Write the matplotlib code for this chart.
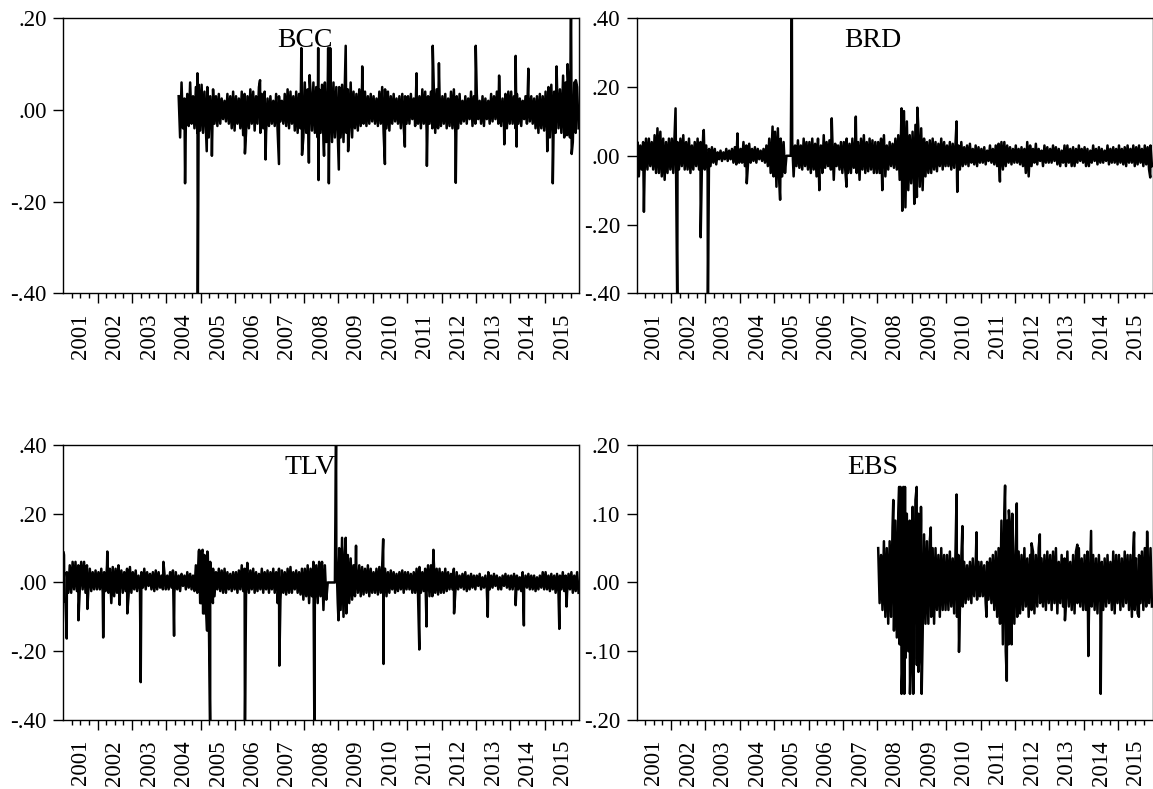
import numpy as np
import matplotlib
matplotlib.use("Agg")
import matplotlib.pyplot as plt
from matplotlib.lines import Line2D
from matplotlib.ticker import FuncFormatter

plt.rcParams['font.family'] = ['Liberation Serif', 'DejaVu Serif']

# --- data: daily returns summarised per month (high / low), in percent ---
# plus the isolated spikes (decimal year, percent)
years = list(range(2001, 2016))

bcc_start = (2004, 5)
bcc_hi = [3, 6, 2.5, 3.5, 6, 3, 5, 5.5,
          5.5, 4, 5, 3, 4.5, 3, 3.5, 2.5, 2, 3.5, 3, 4,
          3, 2.5, 4, 3.5, 3, 4.5, 4, 3, 5, 3.5, 4, 2.5,
          3, 2, 3.5, 3, 2, 3.5, 4.5, 4, 3, 4, 3.5, 5,
          6, 4.5, 4, 6, 5, 4.5, 5.5, 6, 5, 7, 6, 5,
          5, 5.5, 6, 4.5, 6, 4, 3.5, 4.5, 6, 4, 3, 3.5,
          3, 2.5, 4, 5, 4.5, 4, 3, 3.5, 2.5, 3, 3.5, 3,
          3, 3.5, 2.5, 4, 3, 4.5, 4, 3, 4, 5, 4.5, 3.5,
          3, 3.5, 2.5, 4, 4.5, 3, 3.5, 2, 3, 2.5, 4, 3,
          3.5, 2, 3, 2.5, 2, 3.5, 3, 4, 3, 2.5, 3.5, 4,
          4, 3, 3.5, 2.5, 2, 3, 3.5, 3, 2.5, 3, 3.5, 3,
          4, 5, 5.5, 4, 5, 4.5, 5, 6, 5.5, 5, 6, 5]
bcc_lo = [-6, -4, -3, -3.5, -3, -4, -5, -4.5,
          -5, -4, -6, -4.5, -3, -3.5, -3, -2, -2.5, -3, -4, -4.5,
          -3, -4, -5.5, -5, -4, -3, -4.5, -3, -5, -4, -5, -3.5,
          -3, -3.5, -4, -2.5, -3, -3.5, -4, -3, -4.5, -5, -4, -6,
          -5, -6, -4.5, -5, -6, -5, -6.5, -7, -8, -7, -6, -5,
          -6, -7, -5, -4.5, -6, -4, -4.5, -3.5, -3, -3.5, -3, -2.5,
          -3, -3.5, -3, -5, -4, -4.5, -3, -2.5, -3, -4, -3.5, -3,
          -3, -2, -3.5, -3, -4, -3, -4.5, -3, -4, -5, -4, -3.5,
          -3, -4, -3.5, -4, -5, -4, -3, -2.5, -3, -2, -3.5, -3,
          -2, -3, -3.5, -2, -3, -2.5, -2, -3, -3.5, -3, -4, -3,
          -3, -4, -3, -3.5, -2, -3, -2.5, -3, -4, -5, -4, -4.5,
          -5, -6, -5.5, -5, -4, -5, -6, -5.5, -6, -7, -5, -4]
bcc_spike_t = [2004.54, 2004.90, 2004.91, 2005.17, 2005.32, 2006.28, 2006.72, 2006.88,
               2007.27, 2007.92, 2007.94, 2008.14, 2008.16, 2008.41, 2008.42, 2008.58,
               2008.70, 2008.72, 2008.76, 2009.01, 2009.21, 2009.28, 2009.69, 2010.35,
               2010.93, 2011.27, 2011.57, 2011.74, 2011.92, 2012.41, 2012.99, 2013.67,
               2013.82, 2014.15, 2014.18, 2014.52, 2015.07, 2015.23, 2015.34, 2015.53,
               2015.66, 2015.76, 2015.78, 2015.90]
bcc_spike_v = [-16, 8, -45, -9, -10, -9.5, 6.5, -10.8,
               -11.8, 13.5, -9.8, -11.5, 7.6, 13.5, -15.3, -10,
               13.5, -16, 13.5, -13, 14, -9, 9.5, -11.8,
               -8, 8, -12.2, 14, 10.2, -15.9, 14, 7.5,
               -7.5, 11.8, -8, 9, -9, -16, 9.5, 7.5,
               10, 25, -9.6, 6.5]

brd_start = (2001, 1)
brd_hi = [4, 3, 4, 5, 5, 4, 6, 8, 7, 5, 4, 5,
          5, 7, 4, 5, 6, 4, 5, 3, 4, 5, 4, 7,
          3, 2, 2.5, 2, 1, 1.5, 1, 2, 1.5, 2, 2.5, 3,
          2, 4, 3, 3.5, 2, 2.5, 2, 1.5, 2, 3, 5, 6,
          7, 8, 5, 4, 0, 0, 4, 3, 4.5, 3, 5, 4,
          4, 5, 3.5, 5, 3, 6, 4, 4.5, 5, 3.5, 3, 4,
          4, 5, 3.5, 5, 4.5, 4, 5, 6, 4, 5, 4.5, 4,
          4, 5, 6, 3, 4, 3.5, 5, 6, 8, 13, 10, 6,
          7, 9, 8, 8, 5, 4, 4.5, 5, 4, 3.5, 5, 4,
          3, 4, 3.5, 4, 3, 4, 2.5, 3, 3.5, 2, 3, 2.5,
          2, 2.5, 1.5, 3, 2, 3, 3.5, 4, 4, 3, 2.5, 2,
          3, 2, 2.5, 2, 4, 3, 2, 3.5, 2, 1.5, 3, 2.5,
          2, 3, 2.5, 2, 1.5, 3, 3, 2, 2.5, 2, 3, 2,
          2.5, 2, 1.5, 3, 2, 2.5, 2, 1.5, 3, 2, 2.5, 2,
          3, 2, 2.5, 3, 2, 3, 2.5, 3, 2, 3, 2.5, 3]
brd_lo = [-6, -4, -5, -4, -3, -4, -5, -5, -6, -7, -5, -4,
          -5, -4, -4, -3, -4, -4, -5, -4, -3, -4, -3, -4,
          -5, -3, -2, -2.5, -1, -1.5, -1, -1.5, -1, -2, -2.5, -2,
          -2, -3, -3.5, -2, -1.5, -2, -1, -1.5, -2, -3, -5, -6,
          -9, -8, -6, -5, 0, 0, -6, -3, -3.5, -4, -3, -4,
          -5, -4, -6, -4, -5, -3.5, -3, -4, -7, -3, -4, -5,
          -4, -5, -5, -3.5, -5, -7, -4, -5, -4.5, -4, -5, -5,
          -5, -4, -6, -4, -3, -3.5, -4, -7, -12, -15, -10, -8,
          -9, -12, -9, -10, -6, -5, -5, -4, -4.5, -3, -4, -3,
          -3, -4, -3.5, -6, -4, -3, -2.5, -3, -2, -2.5, -3, -2,
          -2, -2.5, -1.5, -2, -2.5, -3, -4, -4, -3, -2, -2.5, -2,
          -2, -2.5, -3, -5, -6, -3, -2, -2.5, -1.5, -3, -2, -2,
          -2, -1.5, -2.5, -3, -2, -3, -2, -3, -3, -2, -1.5, -2,
          -3, -3, -2, -1.5, -2.5, -2, -2, -1.5, -2.5, -2, -2, -2.5,
          -2, -2.5, -3, -2, -2, -3, -2.5, -2, -3, -2.5, -4, -3]
brd_spike_t = [2001.02, 2001.21, 2002.13, 2002.18, 2002.86, 2002.95, 2003.07, 2003.93,
               2004.20, 2004.95, 2005.17, 2005.51, 2006.31, 2006.67, 2007.10, 2007.37,
               2008.14, 2008.70, 2008.72, 2009.07, 2009.16, 2010.30, 2010.32, 2011.56,
               2015.93]
brd_spike_v = [-5.6, -16.3, 13.8, -45, -23.7, 7.5, -45, 6.5,
               -8, 8.5, -12.8, 45, -10, 10.9, -9, 11.4,
               -10, 13.8, -16, -14, 14, 10, -10.5, -7.5,
               -6.3]

tlv_start = (2001, 1)
tlv_hi = [8, 3, 5, 6, 6, 5, 6, 6, 5, 4, 3, 3.5,
          3, 4, 3, 5, 4, 4.5, 4, 5, 3.5, 3, 4, 4.5,
          3, 3.5, 2, 3, 4, 3, 2.5, 3, 3.5, 3, 2, 3,
          2, 3, 3.5, 3, 2, 2.5, 2, 3, 2.5, 2, 5, 9,
          9, 8, 9, 6, 4, 3, 4, 3.5, 4, 3, 2.5, 3,
          3, 3.5, 5, 4, 3, 3.5, 4, 3, 2.5, 4, 3, 3.5,
          3, 4, 3, 4, 3.5, 3, 4, 4.5, 3, 3.5, 3, 4,
          4, 5, 4, 6, 5, 6, 6, 5, 0, 0, 0, 8,
          10, 13, 9, 8, 7, 5, 4, 5, 4.5, 4, 5, 4,
          3, 4, 4.5, 5, 4, 3, 3.5, 3, 2.5, 3, 3.5, 3,
          3, 2.5, 3, 4, 4.5, 3, 4, 5, 5, 6, 4, 4,
          3, 4, 3, 2.5, 4, 3, 2, 2.5, 3, 2, 2.5, 2,
          2, 2.5, 1.5, 2, 3, 2, 2.5, 2, 1.5, 2, 2.5, 2,
          2, 2.5, 2, 1.5, 3, 2, 2.5, 2, 2, 1.5, 2, 3,
          3, 2, 2.5, 2, 2.5, 2, 3, 2, 2.5, 3, 2, 3]
tlv_lo = [-5, -3, -3, -2, -2.5, -2, -2, -3, -2, -2.5, -2, -2,
          -2, -3, -2.5, -3, -6, -4, -3, -2, -3, -2.5, -4, -3,
          -2, -2.5, -2, -1.5, -2, -1, -2, -2.5, -2, -1.5, -2, -2,
          -2, -1.5, -3, -2, -2.5, -1, -2, -1.5, -2, -2.5, -3, -6,
          -9, -6, -8, -4, -4, -2, -2.5, -3, -3, -2, -2.5, -2,
          -3, -2, -2.5, -3, -3, -2, -3, -2.5, -2, -3, -2, -3,
          -2, -3, -2.5, -5, -3, -3.5, -3, -3, -2, -3, -3.5, -5,
          -4, -6, -4, -5, -6, -4, -8, -5, 0, 0, 0, -6,
          -8, -10, -9, -6, -5, -4, -3, -4, -3.5, -3, -4, -3,
          -3, -3.5, -3, -4, -4, -3, -2, -3, -2.5, -2, -3, -2,
          -2, -3, -3, -3.5, -3, -2.5, -3, -4, -4, -3, -3.5, -3,
          -3, -2.5, -2, -2, -3, -2, -1.5, -2, -2.5, -2, -1.5, -2,
          -1, -2, -1.5, -2, -2, -1.5, -1, -2, -2, -1, -1.5, -2,
          -2, -1.5, -2, -2.5, -2, -1.5, -2, -2, -2.5, -2, -1.5, -2,
          -2, -2.5, -2, -3, -3, -2, -2.5, -3, -2, -3, -2.5, -3]
tlv_spike_t = [2001.01, 2001.03, 2001.10, 2001.44, 2001.70, 2002.16, 2002.28, 2002.64,
               2002.86, 2003.25, 2003.91, 2004.22, 2004.95, 2005.02, 2005.05, 2005.10,
               2005.18, 2005.20, 2005.27, 2005.35, 2006.28, 2006.35, 2007.23, 2007.28,
               2008.30, 2008.93, 2009.00, 2009.21, 2009.51, 2010.30, 2010.31, 2011.35,
               2011.56, 2011.76, 2012.36, 2013.34, 2014.15, 2014.39, 2015.42, 2015.63]
tlv_spike_v = [8.7, -5.5, -16.3, -11, -7.7, -16, 9, -6.5,
               -9, -29, 6, -15.5, 9.5, -6, 9.5, -9,
               -14, 8.5, -45, -6, -45, 5.7, -6, -24.2,
               -45, 45, -11, 13, 10.7, 12.6, -23.7, -19.5,
               -12.8, 9.5, -9, -10, -6.6, -12.5, -13.5, -7]

ebs_start = (2008, 1)
ebs_hi = [5, 4, 6, 5, 6, 8, 9, 10, 12, 13, 10, 9,
          11, 12, 10, 9, 7, 6, 6, 5, 5, 4, 5, 4,
          4, 4.5, 3.5, 5, 4, 3.5, 3, 2.5, 3, 3.5, 2.5, 3,
          3, 2.5, 3, 3.5, 4, 4.5, 5, 9, 10, 9, 8, 6,
          5, 4.5, 4, 5, 3.5, 4, 4.5, 4, 5, 3.5, 4, 4.5,
          4, 4.5, 5, 3, 4, 3.5, 4.5, 3, 4, 4.5, 5, 3.5,
          4, 4.5, 3, 4, 3.5, 4, 3, 3.5, 4, 3, 4.5, 4,
          4, 3.5, 4.5, 4, 4, 5, 3.5, 4, 4.5, 5, 4, 5]
ebs_lo = [-3, -4, -5, -6, -5, -7, -8, -9, -12, -11, -10, -9,
          -11, -12, -10, -8, -6, -6, -5, -6, -4, -5, -4, -4,
          -4, -3.5, -4.5, -5, -4, -3.5, -3, -2.5, -3, -2, -2.5, -2,
          -2, -3, -2.5, -3, -4, -5, -6, -9, -10, -9, -7, -6,
          -5, -4.5, -4, -3.5, -5, -4, -4.5, -3.5, -3, -3.5, -4, -3,
          -4, -3, -4.5, -3, -3.5, -3, -3.5, -4, -4.5, -3, -3.5, -4,
          -4, -5, -3.5, -4, -4.5, -3, -4, -3.5, -3, -4, -4.5, -3,
          -4, -3.5, -3, -4, -5, -4, -4.5, -3, -4, -3.5, -3, -3.5]
ebs_spike_t = [2008.46, 2008.63, 2008.67, 2008.70, 2008.75, 2008.78, 2008.80, 2008.945,
               2009.04, 2009.14, 2009.19, 2009.265, 2009.285, 2009.55, 2010.30, 2010.37,
               2010.47, 2010.88, 2011.17, 2011.71, 2011.76, 2011.82, 2011.90, 2011.92,
               2012.05, 2012.48, 2012.72, 2013.45, 2013.81, 2014.13, 2014.21, 2014.49,
               2015.46, 2015.60, 2015.84]
ebs_spike_v = [12, 13.9, 13.9, -16.2, 13.9, -16.2, 13.9, -16.2,
               -16.2, 13.9, -13, 11, -16.2, 8, 12.8, -10.1,
               8.2, 7.3, -5, 14.1, -14.3, 10.5, -9, 10,
               11.5, 5.7, 7, -5.5, 5.5, -10.7, 7.5, -16.2,
               7.3, -5, 7.4]


def month_series(start, hi, lo, spike_t, spike_v):
    """Monta a serie: maximo e minimo de cada mes + picos isolados."""
    t0 = start[0] + (start[1] - 1) / 12
    idx = np.arange(len(hi))
    t = np.concatenate([t0 + (idx + 0.25) / 12, t0 + (idx + 0.75) / 12, spike_t])
    v = np.concatenate([hi, lo, spike_v]) / 100.0
    order = np.argsort(t, kind="stable")
    return t[order], v[order]


def fmt_tick(v, _):
    return f"{v:.2f}".replace("0.", ".", 1)


panels = [
    ("BCC", month_series(bcc_start, bcc_hi, bcc_lo, bcc_spike_t, bcc_spike_v),
     (-0.4, 0.2), [-0.4, -0.2, 0.0, 0.2], 0.469, [0.0549, 0.6283, 0.4475, 0.3485]),
    ("BRD", month_series(brd_start, brd_hi, brd_lo, brd_spike_t, brd_spike_v),
     (-0.4, 0.4), [-0.4, -0.2, 0.0, 0.2, 0.4], 0.458, [0.5522, 0.6283, 0.4475, 0.3485]),
    ("TLV", month_series(tlv_start, tlv_hi, tlv_lo, tlv_spike_t, tlv_spike_v),
     (-0.4, 0.4), [-0.4, -0.2, 0.0, 0.2, 0.4], 0.479, [0.0549, 0.0875, 0.4475, 0.3485]),
    ("EBS", month_series(ebs_start, ebs_hi, ebs_lo, ebs_spike_t, ebs_spike_v),
     (-0.2, 0.2), [-0.2, -0.1, 0.0, 0.1, 0.2], 0.458, [0.5522, 0.0875, 0.4475, 0.3485]),
]

fig = plt.figure(figsize=(11.53, 7.89), dpi=100)

quarters = [y + q / 4 for y in years for q in (1, 2, 3)]
quarter_labels = [str(y) if q == 2 else "" for y in years for q in (1, 2, 3)]

for name, (t, v), ylim, yticks, tx, rect in panels:
    ax = fig.add_axes(rect)
    ax.plot(t, v, color="black", lw=1.8)
    ax.set_xlim(2001, 2016)
    ax.set_ylim(*ylim)

    # eixo x: traços longos nas viradas de ano, curtos nos trimestres
    ax.set_xticks(years[1:])
    ax.set_xticklabels([])
    ax.set_xticks(quarters, minor=True)
    ax.set_xticklabels(quarter_labels, minor=True, rotation=90)
    ax.tick_params(axis="x", which="major", length=7, width=1, direction="out")
    ax.tick_params(axis="x", which="minor", length=3.5, width=1, direction="out",
                   pad=11, labelsize=16.5)

    ax.set_yticks(yticks)
    ax.yaxis.set_major_formatter(FuncFormatter(fmt_tick))
    ax.tick_params(axis="y", length=7, width=1, direction="out", pad=5, labelsize=16.5)

    for sp in ax.spines.values():
        sp.set_linewidth(1.0)

    ax.text(tx, 0.965, name, transform=ax.transAxes, ha="center", va="top", fontsize=20)

# fina linha cinza que separa as duas colunas de graficos
for y0, y1 in [(0.632, 0.977), (0.09, 0.436)]:
    fig.add_artist(Line2D([580 / 1153, 580 / 1153], [y0, y1], color="0.75", lw=0.8))

plt.savefig("out.png", dpi=100)
